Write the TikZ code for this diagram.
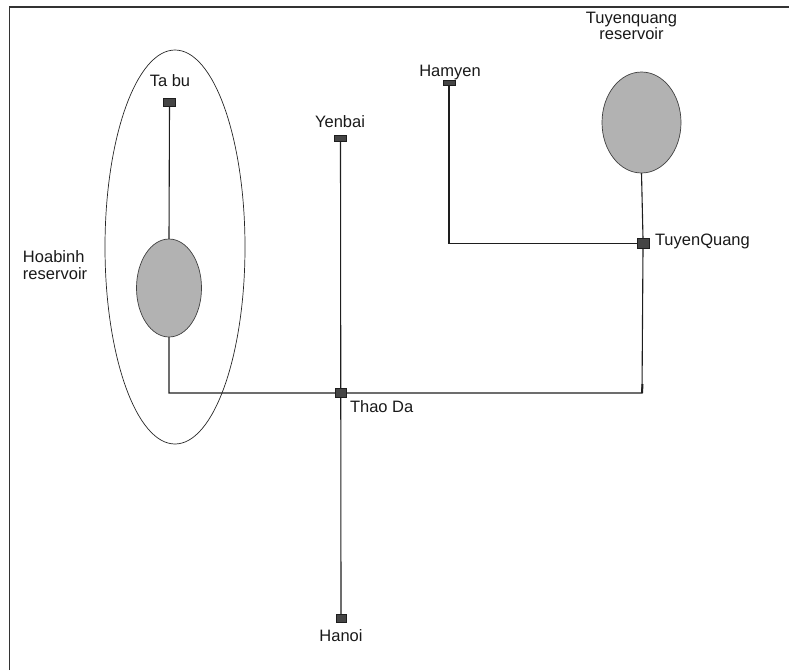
\documentclass[tikz,border=0pt]{standalone}
\usepackage{fontspec}
\setmainfont{Liberation Sans}
\usetikzlibrary{shapes.geometric,backgrounds}
\definecolor{sqfill}{HTML}{454545}
\definecolor{resfill}{HTML}{B2B2B2}
\definecolor{ln}{HTML}{1E1E1E}
\tikzset{
  sq/.style={draw=ln, fill=sqfill, line width=0.6pt, inner sep=0pt, outer sep=0pt},
  res/.style={ellipse, draw=black!75, fill=resfill, line width=0.7pt, inner sep=0pt, outer sep=0pt},
  outerres/.style={ellipse, draw=black!85, line width=0.7pt, inner sep=0pt, outer sep=0pt},
  conn/.style={draw=ln, line width=1.1pt},
  lbl/.style={inner sep=0pt, outer sep=0pt, text=black!90, font=\fontsize{16.5}{16.5}\selectfont},
}
\begin{document}
\begin{tikzpicture}[x=1pt, y=-1pt]
\useasboundingbox (0,0) rectangle (789,670);
% frame
\draw[black!80, line width=1.6pt] (9.5,670) -- (9.5,7) -- (789,7);

% reservoirs
\node[outerres, minimum width=140pt, minimum height=394pt] (hbo) at (175,247) {};
\node[res, minimum width=65pt, minimum height=98pt] (hb) at (169,288) {};
\node[res, minimum width=79pt, minimum height=101pt] (tqr) at (641.5,122.5) {};

% stations
\node[sq, minimum width=12pt, minimum height=8pt] (tabu) at (169.5,102) {};
\node[sq, minimum width=12pt, minimum height=6pt] (yenbai) at (340.5,138) {};
\node[sq, minimum width=12pt, minimum height=5pt] (hamyen) at (449,82.5) {};
\node[sq, minimum width=12pt, minimum height=10pt] (tq) at (643,243.5) {};
\node[sq, minimum width=11pt, minimum height=9pt] (thaoda) at (341,392.5) {};
\node[sq, minimum width=10pt, minimum height=8pt] (hanoi) at (341,618) {};

\coordinate (rc) at (642,393);

% connectors
\begin{scope}[on background layer]
\draw[conn] (tabu.south) -- (hb.north);
\draw[conn] (yenbai.south) -- (hanoi.north);
\draw[conn] (hamyen.south) |- (tq.west);
\draw[conn] (tqr.south) -- (tq.north);
\draw[conn] (tq.south) -- (rc) -| (hb.south);
\draw[ln, line width=2pt] (642.5,384) -- (rc);
\end{scope}

% labels
\node[lbl, anchor=base] (ltabu) at (170,86) {Ta bu};
\node[lbl, anchor=base] (lyenbai) at (340,127) {Yenbai};
\node[lbl, anchor=base] (lhamyen) at (450,76) {Hamyen};
\node[lbl, anchor=base, align=center] (ltqr) at (631.5,39.5) {Tuyenquang\\reservoir};
\node[lbl, anchor=base west] (ltq) at (655,245) {TuyenQuang};
\node[lbl, anchor=base west, align=left] (lhb) at (23,279) {Hoabinh\\reservoir};
\node[lbl, anchor=base west] (lthaoda) at (350,412) {Thao Da};
\node[lbl, anchor=base] (lhanoi) at (341,641) {Hanoi};
\end{tikzpicture}
\end{document}
